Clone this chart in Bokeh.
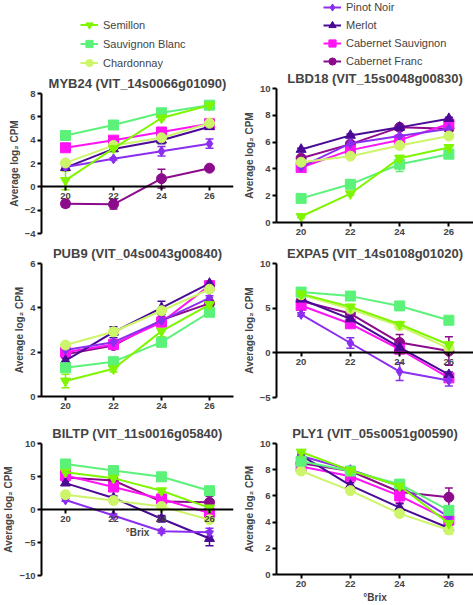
from bokeh.plotting import figure
from bokeh.models import (FixedTicker, Whisker, TeeHead, ColumnDataSource, Legend,
                          LegendItem, Range1d)
from bokeh.layouts import column, row
from bokeh.embed import file_html
from bokeh.resources import INLINE

FONT = "Liberation Sans"

brix = [20, 22, 24, 26]
varieties = ["Semillon", "Sauvignon Blanc", "Chardonnay",
             "Pinot Noir", "Merlot", "Cabernet Sauvignon", "Cabernet Franc"]
colors = {"Semillon": "#7FF500", "Sauvignon Blanc": "#5CF27A", "Chardonnay": "#CDF56A",
          "Pinot Noir": "#8C2EF0", "Merlot": "#4A0A96", "Cabernet Sauvignon": "#FF14F5",
          "Cabernet Franc": "#8C0A8C"}
markers = {"Semillon": "inverted_triangle", "Sauvignon Blanc": "square", "Chardonnay": "circle",
           "Pinot Noir": "diamond", "Merlot": "triangle", "Cabernet Sauvignon": "square",
           "Cabernet Franc": "circle"}
draw_order = ["Cabernet Franc", "Cabernet Sauvignon", "Merlot", "Pinot Noir",
              "Chardonnay", "Sauvignon Blanc", "Semillon"]

# ---- mean values (average log2 CPM) ----
myb24 = {"Semillon": [0.55, 3.3, 5.9, 7.0], "Sauvignon Blanc": [4.4, 5.3, 6.35, 7.0],
         "Chardonnay": [2.05, 3.55, 4.2, 5.45], "Pinot Noir": [1.7, 2.4, 3.05, 3.7],
         "Merlot": [1.65, 3.25, 4.0, 5.15], "Cabernet Sauvignon": [3.35, 4.0, 4.7, 5.4],
         "Cabernet Franc": [-1.45, -1.5, 0.7, 1.6]}
myb24_err = {"Semillon": [0.8, 0.2, 0.15, 0.15], "Sauvignon Blanc": [0.15, 0.1, 0.1, 0.15],
             "Chardonnay": [0.1, 0.1, 0.2, 0.4], "Pinot Noir": [0.1, 0.1, 0.4, 0.4],
             "Merlot": [0.1, 0.2, 0.3, 0.2], "Cabernet Sauvignon": [0.3, 0.1, 0.15, 0.2],
             "Cabernet Franc": [0.3, 0.4, 0.8, 0.1]}

lbd18 = {"Semillon": [0.45, 2.15, 4.8, 5.6], "Sauvignon Blanc": [1.8, 2.85, 4.35, 5.1],
         "Chardonnay": [4.5, 4.95, 5.75, 6.45], "Pinot Noir": [4.15, 5.9, 6.45, 7.0],
         "Merlot": [5.45, 6.5, 7.1, 7.75], "Cabernet Sauvignon": [4.1, 5.4, 6.15, 7.35],
         "Cabernet Franc": [4.8, 5.85, 7.1, 7.0]}
lbd18_err = {"Semillon": [0.1, 0.1, 0.2, 0.2], "Sauvignon Blanc": [0.2, 0.3, 0.55, 0.2],
             "Chardonnay": [0.1, 0.1, 0.1, 0.1], "Pinot Noir": [0.1, 0.1, 0.1, 0.1],
             "Merlot": [0.1, 0.1, 0.1, 0.1], "Cabernet Sauvignon": [0.1, 0.1, 0.1, 0.15],
             "Cabernet Franc": [0.1, 0.1, 0.1, 0.1]}

pub9 = {"Semillon": [0.7, 1.25, 2.95, 4.15], "Sauvignon Blanc": [1.3, 1.57, 2.45, 3.8],
        "Chardonnay": [2.32, 2.92, 3.87, 4.84], "Pinot Noir": [2.1, 2.45, 3.42, 4.45],
        "Merlot": [1.62, 2.9, 4.0, 5.1], "Cabernet Sauvignon": [2.0, 2.35, 3.35, 5.0],
        "Cabernet Franc": [1.9, 2.3, 3.45, 4.2]}
pub9_err = {"Semillon": [0.3, 0.15, 0.25, 0.1], "Sauvignon Blanc": [0.1, 0.1, 0.2, 0.1],
            "Chardonnay": [0.05, 0.1, 0.1, 0.1], "Pinot Noir": [0.1, 0.1, 0.1, 0.1],
            "Merlot": [0.1, 0.25, 0.3, 0.1], "Cabernet Sauvignon": [0.1, 0.15, 0.1, 0.1],
            "Cabernet Franc": [0.1, 0.15, 0.1, 0.1]}

expa5 = {"Semillon": [6.6, 5.15, 3.2, 0.9], "Sauvignon Blanc": [6.8, 6.35, 5.25, 3.65],
         "Chardonnay": [6.5, 4.9, 3.0, 0.5], "Pinot Noir": [4.3, 1.1, -2.1, -3.1],
         "Merlot": [6.0, 3.8, 0.6, -2.45], "Cabernet Sauvignon": [5.3, 3.25, 0.4, -2.8],
         "Cabernet Franc": [5.8, 4.4, 1.15, 0.2]}
expa5_err = {"Semillon": [0.1, 0.2, 0.2, 0.3], "Sauvignon Blanc": [0.2, 0.1, 0.1, 0.1],
             "Chardonnay": [0.1, 0.1, 0.1, 0.1], "Pinot Noir": [0.2, 0.6, 1.0, 0.6],
             "Merlot": [0.2, 0.3, 0.4, 0.3], "Cabernet Sauvignon": [0.3, 0.3, 0.3, 0.3],
             "Cabernet Franc": [0.2, 0.3, 0.9, 1.6]}

biltp = {"Semillon": [5.65, 4.75, 2.85, 0.25], "Sauvignon Blanc": [6.9, 5.9, 4.95, 2.85],
         "Chardonnay": [2.25, 1.35, 0.45, -1.55], "Pinot Noir": [1.45, -0.9, -3.3, -3.45],
         "Merlot": [4.0, 1.75, -1.4, -4.4], "Cabernet Sauvignon": [5.15, 3.4, 1.6, -0.55],
         "Cabernet Franc": [4.85, 4.4, 1.2, 1.1]}
biltp_err = {"Semillon": [0.2, 0.2, 0.3, 0.3], "Sauvignon Blanc": [0.2, 0.2, 0.2, 0.2],
             "Chardonnay": [0.1, 0.2, 0.3, 0.2], "Pinot Noir": [0.2, 0.2, 0.3, 0.6],
             "Merlot": [0.3, 0.3, 0.5, 1.1], "Cabernet Sauvignon": [0.4, 0.5, 0.5, 0.3],
             "Cabernet Franc": [0.2, 0.2, 0.3, 0.9]}

ply1 = {"Semillon": [9.35, 7.95, 6.75, 3.9], "Sauvignon Blanc": [8.65, 7.9, 6.9, 4.9],
        "Chardonnay": [7.9, 6.4, 4.65, 3.4], "Pinot Noir": [9.05, 8.0, 6.75, 4.4],
        "Merlot": [9.1, 6.8, 5.1, 3.55], "Cabernet Sauvignon": [8.25, 7.5, 6.0, 4.15],
        "Cabernet Franc": [8.5, 7.9, 6.3, 5.9]}
ply1_err = {"Semillon": [0.1, 0.1, 0.2, 0.2], "Sauvignon Blanc": [0.3, 0.2, 0.3, 0.3],
            "Chardonnay": [0.1, 0.1, 0.2, 0.3], "Pinot Noir": [0.1, 0.1, 0.2, 0.2],
            "Merlot": [0.2, 0.2, 0.3, 0.2], "Cabernet Sauvignon": [0.2, 0.2, 0.5, 0.2],
            "Cabernet Franc": [0.2, 0.2, 0.4, 0.7]}

x_ticks = [20, 22, 24, 26]
YLABEL = "Average log\u2082 CPM"


def panel(title, data, err, yr, yticks, width, height, bl, br, bt, bb, xlabel=None):
    p = figure(width=width, height=height, x_range=Range1d(19, 27), y_range=Range1d(*yr),
               output_backend="svg", toolbar_location=None,
               min_border_left=bl, min_border_right=br, min_border_top=bt, min_border_bottom=bb)
    p.title.text = title
    p.title.text_font = FONT
    p.title.text_font_style = "bold"
    p.title.text_font_size = "13px"
    p.title.align = "center"
    p.title.standoff = 5
    p.grid.visible = False
    p.outline_line_color = None
    for ax in (p.xaxis, p.yaxis):
        ax.axis_line_width = 2
        ax.major_tick_line_width = 2
        ax.major_tick_out = 4
        ax.major_tick_in = 0
        ax.minor_tick_line_color = None
        ax.major_label_text_font = FONT
        ax.major_label_text_font_style = "bold"
        ax.major_label_text_font_size = "9.5px"
        ax.major_label_standoff = 2
        ax.axis_label_text_font = FONT
        ax.axis_label_text_font_style = "bold"
        ax.axis_label_text_font_size = "10px"
        ax.axis_label_standoff = 2
    p.xaxis.ticker = FixedTicker(ticks=x_ticks)
    p.yaxis.ticker = FixedTicker(ticks=yticks)
    if yr[0] < 0:
        # the x axis crosses the y axis at zero
        p.xaxis.fixed_location = 0
    p.yaxis.axis_label = YLABEL
    if xlabel:
        p.xaxis.axis_label = xlabel
    for v in draw_order:
        c = colors[v]
        ys = data[v]
        es = err[v]
        src = ColumnDataSource(dict(x=brix, y=ys,
                                    up=[a + b for a, b in zip(ys, es)],
                                    lo=[a - b for a, b in zip(ys, es)]))
        w = Whisker(source=src, base="x", upper="up", lower="lo", line_color=c, line_width=1.5,
                    upper_head=TeeHead(size=8, line_color=c, line_width=1.5),
                    lower_head=TeeHead(size=8, line_color=c, line_width=1.5))
        p.add_layout(w)
        p.line("x", "y", source=src, color=c, line_width=2)
        p.scatter("x", "y", source=src, marker=markers[v], size=10, color=c)
    return p


def legend_fig(names, width, height, lx, ly, row_h):
    p = figure(width=width, height=height, x_range=(0, 1), y_range=(0, 1), min_border=0,
               output_backend="svg", toolbar_location=None,
               x_axis_location=None, y_axis_location=None)
    p.grid.visible = False
    p.outline_line_color = None
    items = []
    for n in names:
        # one off-screen point so that the legend has a sample to draw
        lr = p.line([5, 6], [5, 6], color=colors[n], line_width=2)
        sr = p.scatter([5], [5], marker=markers[n], size=10, color=colors[n])
        items.append(LegendItem(label=n, renderers=[lr, sr]))
    leg = Legend(items=items, location=(lx, ly), padding=0, spacing=0, margin=0,
                 label_height=row_h, glyph_height=row_h, glyph_width=18, label_standoff=5,
                 label_text_font=FONT, label_text_font_size="11px",
                 border_line_alpha=0, background_fill_alpha=0)
    p.add_layout(leg)
    return p


legL = legend_fig(["Semillon", "Sauvignon Blanc", "Chardonnay"], 240, 71, 39, -1, 19)
legR = legend_fig(["Pinot Noir", "Merlot", "Cabernet Sauvignon", "Cabernet Franc"],
                  233, 66, 47, -4, 18)

p1 = panel("MYB24 (VIT_14s0066g01090)", myb24, myb24_err, (-4, 8), [-4, -2, 0, 2, 4, 6, 8],
           240, 170, 35, 0, 22, 8)
p3 = panel("PUB9 (VIT_04s0043g00840)", pub9, pub9_err, (0, 6), [0, 2, 4, 6],
           240, 180, 34, 7, 22, 25)
p5 = panel("BILTP (VIT_11s0016g05840)", biltp, biltp_err, (-10, 10), [-10, -5, 0, 5, 10],
           240, 184, 38, 7, 22, 30, xlabel="\u00b0Brix")

p2 = panel("LBD18 (VIT_15s0048g00830)", lbd18, lbd18_err, (0, 10), [0, 2, 4, 6, 8, 10],
           233, 175, 33, 0, 22, 19)
p4 = panel("EXPA5 (VIT_14s0108g01020)", expa5, expa5_err, (-5, 10), [-5, 0, 5, 10],
           233, 180, 33, 0, 22, 24)
p6 = panel("PLY1 (VIT_05s0051g00590)", ply1, ply1_err, (0, 10), [0, 2, 4, 6, 8, 10],
           233, 184, 33, 0, 21, 29, xlabel="\u00b0Brix")

layout = row(column(legL, p1, p3, p5), column(legR, p2, p4, p6))

open("out.html", "w").write(file_html(layout, INLINE))
